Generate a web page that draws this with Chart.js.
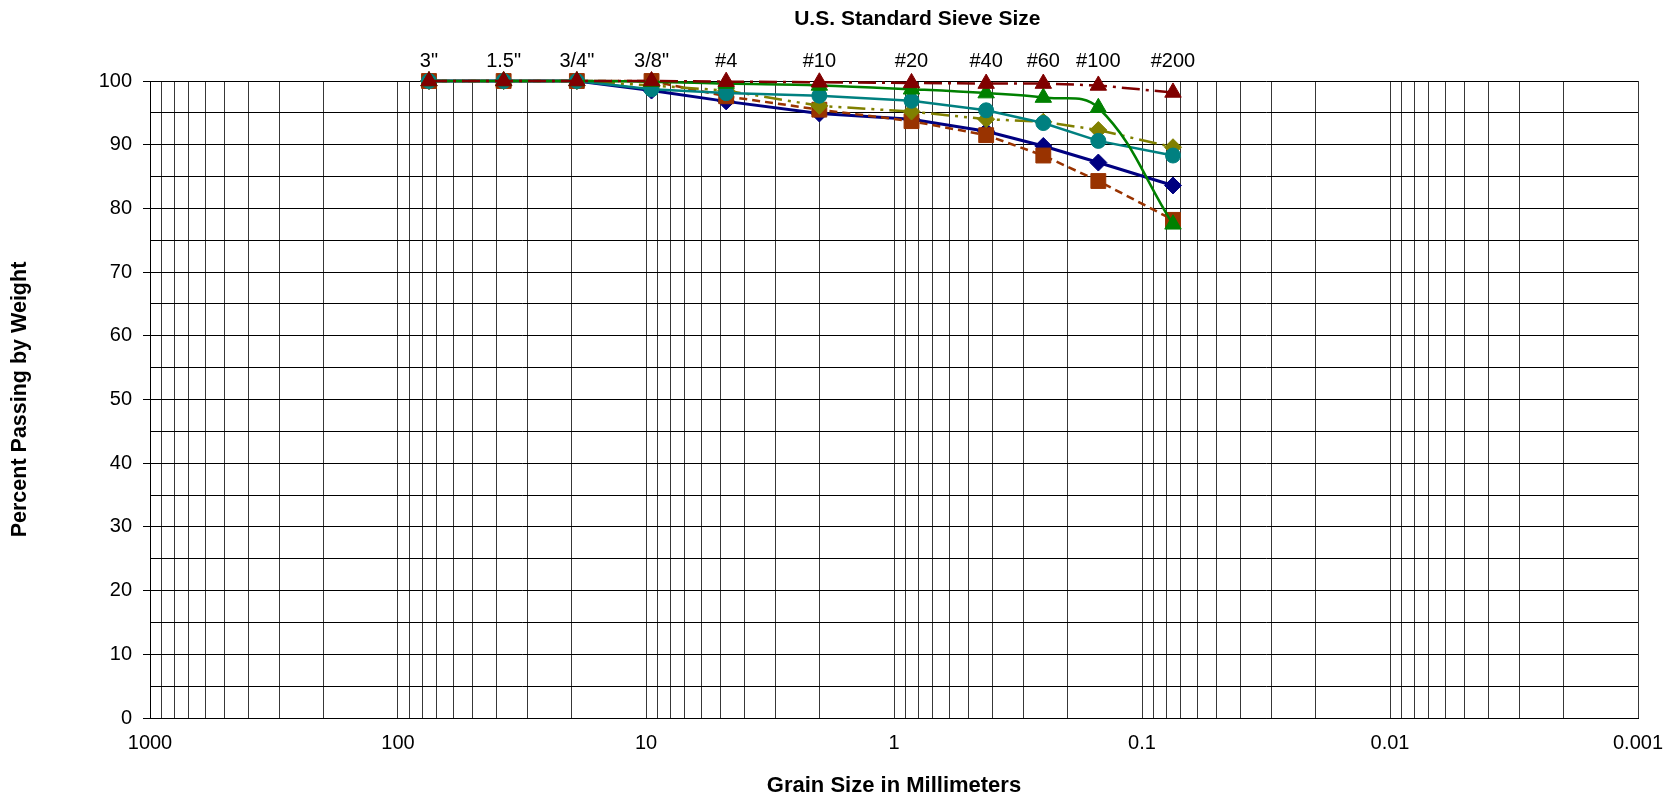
<!DOCTYPE html>
<html>
<head>
<meta charset="utf-8">
<title>Grain Size Distribution</title>
<script src="https://cdn.jsdelivr.net/npm/chart.js@4.4.0/dist/chart.umd.min.js"></script>
<style>
    html, body { margin: 0; padding: 0; background: #fff; }
    #wrap { width: 1669px; height: 801px; }
</style>
</head>
<body>
<div id="wrap"><canvas id="gradationChart" width="1669" height="801"></canvas></div>
<script>
// Sieve data
const sieveNames = ['3"', '1.5"', '3/4"', '3/8"', '#4', '#10', '#20', '#40', '#60', '#100', '#200'];
const sieveSizes = [75, 37.5, 19, 9.5, 4.75, 2.0, 0.85, 0.425, 0.25, 0.15, 0.075];

// Percent passing per sample
const navySeries  = [100, 100, 100, 98.5, 96.8, 94.9, 94.0, 92.1, 89.8, 87.2, 83.6];
const brownSeries = [100, 100, 100, 100, 97.6, 95.5, 93.7, 91.5, 88.3, 84.3, 78.2];
const oliveSeries = [100, 100, 100, 99.3, 98.5, 96.1, 95.2, 94.0, 93.6, 92.3, 89.6];
const tealSeries  = [100, 100, 100, 98.7, 98.1, 97.7, 96.9, 95.4, 93.4, 90.6, 88.3];
const greenSeries = [100, 100, 100, 99.9, 99.6, 99.3, 98.7, 98.1, 97.4, 95.8, 77.5];
const redSeries   = [100, 100, 100, 100, 99.9, 99.8, 99.7, 99.6, 99.6, 99.3, 98.2];

// Axis tick labels
const xTickLabels = [1000, 100, 10, 1, 0.1, 0.01, 0.001];
const yTickLabels = [0, 10, 20, 30, 40, 50, 60, 70, 80, 90, 100];

const FONT = "'Liberation Sans', Arial, sans-serif";

function toPoints(values) {
    return values.map((v, i) => ({ x: sieveSizes[i], y: v }));
}

// Log grid at 1..9 of each decade between 0.001 and 1000
function logGridTicks() {
    const ticks = [];
    const decades = xTickLabels.slice().sort((a, b) => a - b);
    decades.forEach(d => {
        if (d === 1000) { ticks.push({ value: d }); return; }
        for (let m = 1; m <= 9; m++) {
            ticks.push({ value: parseFloat((m * d).toPrecision(4)) });
        }
    });
    return ticks;
}

function makeSeries(label, values, color, style, opts) {
    return Object.assign({
        label: label,
        data: toPoints(values),
        borderColor: color,
        backgroundColor: color,
        pointBackgroundColor: color,
        pointBorderColor: color,
        pointStyle: style,
        pointRadius: 8,
        pointBorderWidth: 1,
        borderWidth: 2.5,
        tension: 0,
        fill: false,
        clip: false
    }, opts || {});
}

const datasets = [
    makeSeries('Sample 1', navySeries, '#000080', 'rectRot', { order: 6, borderWidth: 3, pointRadius: 8.5 }),
    makeSeries('Sample 2', brownSeries, '#993300', 'rect', { order: 5, pointRadius: 10.5, borderDash: [8, 5] }),
    makeSeries('Sample 3', oliveSeries, '#808000', 'rectRot', { order: 4, pointRadius: 8.5, borderDash: [18, 6, 3, 6, 3, 6] }),
    makeSeries('Sample 4', tealSeries, '#008080', 'circle', { order: 3, pointRadius: 7.5 }),
    makeSeries('Sample 5', greenSeries, '#008000', 'triangle', { order: 2, pointRadius: 9.5, tension: 0.4 }),
    makeSeries('Sample 6', redSeries, '#800000', 'triangle', { order: 1, pointRadius: 9.5, borderDash: [18, 6, 3, 6] })
];

new Chart(document.getElementById('gradationChart').getContext('2d'), {
    type: 'line',
    data: { datasets: datasets },
    options: {
        responsive: false,
        animation: false,
        devicePixelRatio: 1,
        layout: { padding: { left: 0, right: 31, top: 0, bottom: 0 } },
        plugins: {
            legend: { display: false },
            tooltip: { enabled: false }
        },
        events: [],
        scales: {
            x: {
                type: 'logarithmic',
                position: 'bottom',
                min: 0.001,
                max: 1000,
                reverse: true,
                afterBuildTicks: scale => { scale.ticks = logGridTicks(); },
                afterFit: scale => { scale.height = 83; },
                grid: { color: '#383838', lineWidth: 1, drawTicks: false },
                border: { color: '#000', width: 1 },
                ticks: {
                    autoSkip: false,
                    maxRotation: 0,
                    padding: 13,
                    color: '#000',
                    font: { family: FONT, size: 20 },
                    callback: value => {
                        const hit = xTickLabels.find(t => Math.abs(Math.log10(t) - Math.log10(value)) < 1e-6);
                        return hit === undefined ? '' : String(hit);
                    }
                },
                title: {
                    display: true,
                    text: 'Grain Size in Millimeters',
                    color: '#000',
                    font: { family: FONT, size: 22, weight: 'bold' },
                    padding: { top: 0, bottom: 2 }
                }
            },
            x2: {
                type: 'logarithmic',
                position: 'top',
                min: 0.001,
                max: 1000,
                reverse: true,
                afterBuildTicks: scale => { scale.ticks = sieveSizes.map(v => ({ value: v })); },
                afterFit: scale => { scale.height = 81; },
                grid: { display: false },
                border: { display: false },
                ticks: {
                    autoSkip: false,
                    maxRotation: 0,
                    padding: 0,
                    color: '#000',
                    font: { family: FONT, size: 20 },
                    callback: (value, index) => sieveNames[index]
                },
                title: {
                    display: true,
                    // leading spaces push the title right, as in the original sheet
                    text: '        U.S. Standard Sieve Size',
                    color: '#000',
                    font: { family: FONT, size: 21, weight: 'bold' },
                    padding: { top: 7, bottom: 0 }
                }
            },
            y: {
                min: 0,
                max: 100,
                afterFit: scale => { scale.width = 150; },
                grid: {
                    color: '#000',
                    lineWidth: 1,
                    tickLength: 7,
                    tickColor: ctx => (ctx.tick && ctx.tick.value % 10 === 0) ? '#000' : 'rgba(0,0,0,0)'
                },
                border: { color: '#000', width: 1 },
                ticks: {
                    stepSize: 5,
                    padding: 11,
                    color: '#000',
                    font: { family: FONT, size: 20 },
                    callback: value => yTickLabels.includes(value) ? String(value) : ''
                },
                title: {
                    display: true,
                    text: 'Percent Passing by Weight',
                    color: '#000',
                    font: { family: FONT, size: 21.5, weight: 'bold' },
                    padding: { top: 7, bottom: 0 }
                }
            }
        }
    }
});
</script>
</body>
</html>
